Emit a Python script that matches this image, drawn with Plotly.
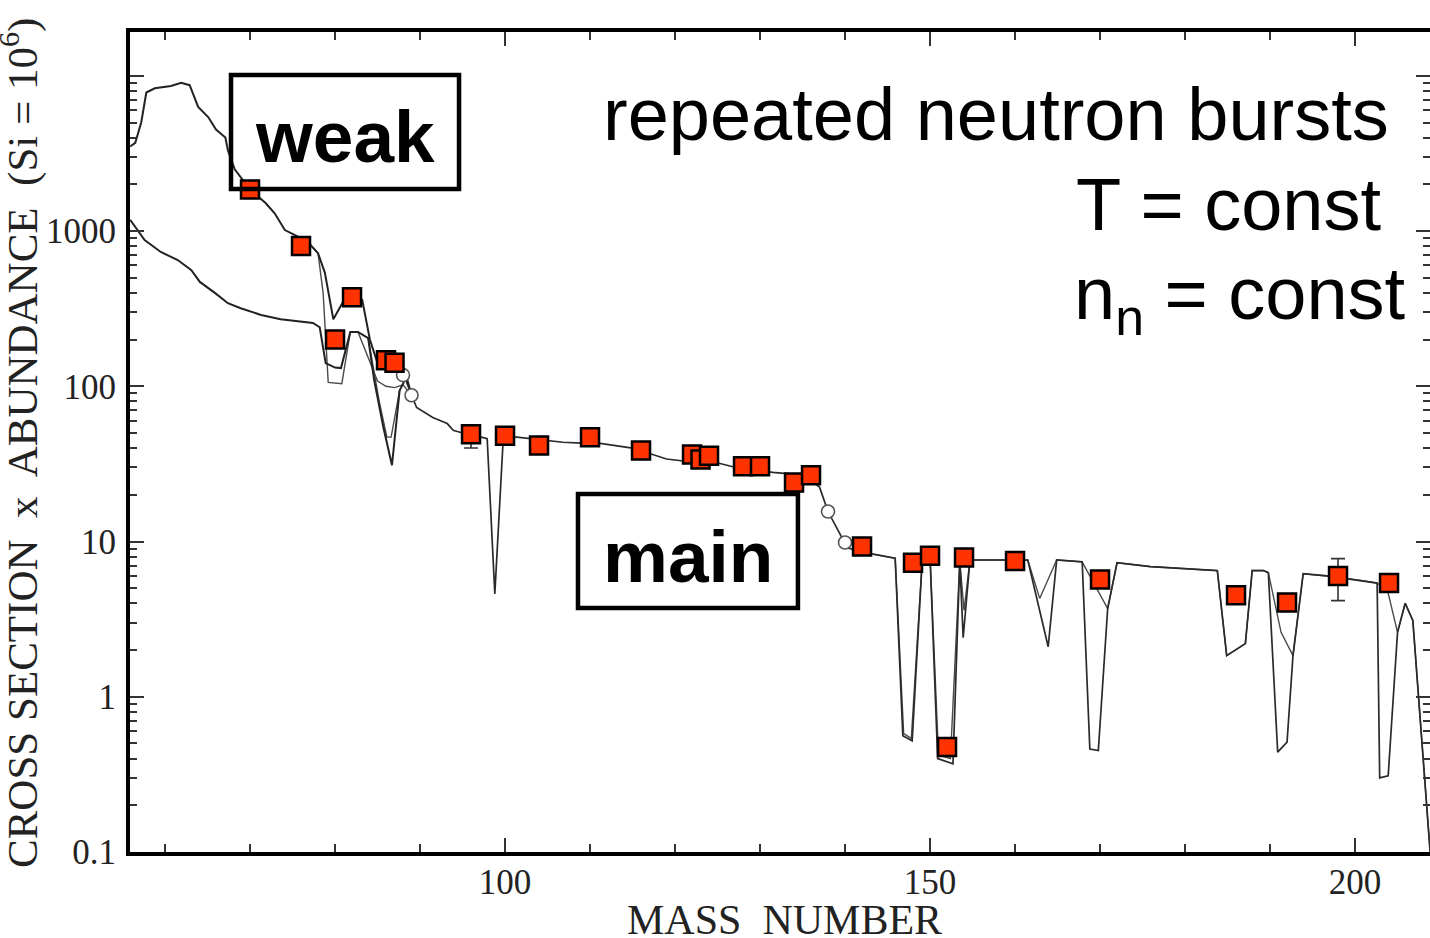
import plotly.graph_objects as go

# ---- measured s-process abundances (sigma * N, Si = 1e6) ----
obs_mass = [70, 76, 80, 82, 86, 87, 96, 100, 104, 110, 116, 122, 123, 124, 128, 130,
            134, 136, 142, 148, 150, 152, 154, 160, 170, 186, 192, 198, 204]
obs_sigma_n = [1850, 800, 200, 375, 147, 142, 49, 48, 41.6, 47, 38.6, 36.4, 33.8, 35.7,
               30.5, 30.5, 24, 26.7, 9.3, 7.3, 8.1, 0.475, 7.9, 7.5, 5.7, 4.5, 4.04, 6.0, 5.4]
obs_err_plus = [0, 0, 0, 0, 0, 0, 7, 0, 0, 0, 0, 0, 0, 0, 0, 0,
                0, 0, 0, 0, 0, 0, 0, 0, 0, 0, 0, 1.76, 0]
obs_err_minus = [0, 0, 0, 0, 0, 0, 9, 0, 0, 0, 0, 0, 0, 0, 0, 0,
                 0, 0, 0, 0, 0, 0, 0, 0, 0, 0, 0, 1.84, 0]

# branching-point isotopes (open symbols)
branch_mass = [88, 89, 138, 140]
branch_sigma_n = [118, 87.5, 15.6, 9.85]

# ---- weak component + main component (total) ----
weak_mass = [55.9, 56.5, 57.2, 57.8, 58.8, 60.7, 61.9, 62.9, 63.9, 65.1, 66.0, 67.1, 67.4,
             68.2, 70.0, 71.8, 72.9, 74.1, 75.3, 76.8, 78.0, 78.8, 79.8, 81.2, 82.0, 83.2,
             84.1, 85.0, 86.5, 88.2, 89.0]
weak_sigma_n = [3500, 3700, 5000, 7800, 8300, 8600, 9000, 8700, 6300, 5400, 4500, 4000, 3300,
                2500, 1850, 1520, 1300, 1015, 940, 850, 720, 540, 270, 370, 390, 360,
                200, 141, 133, 127, 87.5]

# ---- main component, light end ----
main_lo_mass = [55.9, 57.6, 59.5, 61.5, 63.1, 64.1, 65.9, 67.4, 68.9, 71.3, 73.6, 77.4, 78.2,
                78.9, 80.0, 80.7, 81.8, 82.7, 83.9, 84.6, 85.7, 86.7, 87.6, 88.3, 89.0]
main_lo_sigma_n = [1180, 875, 733, 650, 560, 470, 398, 343, 318, 288, 270, 256, 240,
                   141, 132, 131, 224, 224, 204, 110, 54, 31, 94, 112, 87.5]

# ---- alternative branching treatment near Kr/Rb ----
alt_lo_mass = [76.8, 78.0, 78.6, 79.2, 80.8, 81.8, 82.7, 84.0, 85.0, 86.0, 87.0, 88.0, 89.0]
alt_lo_sigma_n = [850, 720, 400, 106, 104, 224, 224, 150, 108, 100, 98, 102, 87.5]

alt_rb_mass = [83.9, 85.2, 86.1, 86.6, 87.6]
alt_rb_sigma_n = [204, 80, 47, 47, 94]

# ---- main component, heavy end (two branching cases) ----
main_a_mass = [89.0, 89.6, 91.5, 93.2, 93.9, 95.0, 96.0, 97.4, 97.9, 98.8, 99.8, 101.4, 106.8,
               109.0, 111.0, 115.0, 117.0, 119.0, 121.0, 123.0, 125.3, 126.8, 131.5, 133.2,
               135.0, 137.0, 138.0, 139.4, 140.2, 143.3, 145.6, 145.9, 146.8, 147.9, 149.1,
               150.0, 150.9, 152.7, 153.5, 153.9, 154.7, 160.0, 161.5, 163.9, 164.9, 167.9,
               168.8, 169.8, 170.9, 172.0, 175.9, 183.8, 184.9, 187.1, 187.9, 189.2, 189.8,
               190.9, 192.0, 192.7, 193.9, 196.7, 200.9, 202.6, 202.9, 203.9, 205.0, 205.9,
               206.8, 208.9]
main_a_sigma_n = [87.5, 73, 63, 57.5, 52, 50, 49, 47, 46, 4.6, 47, 47, 43.6,
                  43, 43, 40, 37, 34, 33, 32.5, 31.8, 30.3, 27.9, 27.4,
                  26.7, 22.4, 15.6, 11.2, 9.1, 8.3, 7.9, 7.8, 0.56, 0.52, 7.9,
                  8.0, 0.40, 0.37, 7.5, 2.4, 7.6, 7.6, 7.6, 2.1, 7.6, 7.4,
                  0.46, 0.45, 3.7, 7.3, 6.9, 6.5, 1.84, 2.2, 6.5, 6.5, 6.3,
                  0.44, 0.51, 1.84, 6.2, 6.0, 5.6, 5.4, 0.30, 0.31, 2.6, 4.0,
                  3.1, 0.09]

main_b_mass = [143.3, 145.6, 145.9, 146.9, 147.8, 149.1, 150.0, 151.0, 152.4, 153.5, 154.0,
               154.7, 160.0, 161.5, 162.9, 164.9, 167.9, 170.9, 172.0, 175.9, 183.8, 184.9,
               187.1, 187.9, 189.2, 189.8, 191.3, 192.7, 193.9, 196.7, 200.9, 202.6, 203.8,
               205.0, 205.9, 206.8, 208.9]
main_b_sigma_n = [8.3, 7.9, 7.8, 0.58, 0.54, 7.9, 8.0, 0.42, 0.40, 7.5, 3.6,
                  7.6, 7.6, 7.6, 4.3, 7.6, 7.4, 3.7, 7.3, 6.9, 6.5, 1.84,
                  2.2, 6.5, 6.5, 6.3, 2.6, 1.84, 6.2, 6.0, 5.6, 5.4, 4.9,
                  2.6, 4.0, 3.1, 0.09]

SERIF = "Liberation Serif, Times New Roman, serif"
SANS = "Liberation Sans, Arial, Helvetica, sans-serif"

fig = go.Figure()

def model_line(xs, ys, color, width):
    fig.add_trace(go.Scatter(x=xs, y=ys, mode="lines",
                             line=dict(color=color, width=width),
                             hoverinfo="skip", showlegend=False))

model_line(alt_lo_mass, alt_lo_sigma_n, "#4a4a4a", 1.4)
model_line(alt_rb_mass, alt_rb_sigma_n, "#4a4a4a", 1.4)
model_line(main_b_mass, main_b_sigma_n, "#4a4a4a", 1.4)
model_line(main_lo_mass, main_lo_sigma_n, "#222222", 2.0)
model_line(weak_mass, weak_sigma_n, "#222222", 2.0)
model_line(main_a_mass, main_a_sigma_n, "#2a2a2a", 1.7)

fig.add_trace(go.Scatter(
    x=branch_mass, y=branch_sigma_n, mode="markers",
    marker=dict(symbol="circle", size=13, color="white",
                line=dict(color="#555555", width=1.6)),
    showlegend=False))

fig.add_trace(go.Scatter(
    x=obs_mass, y=obs_sigma_n, mode="markers",
    marker=dict(symbol="square", size=18, color="#ff3300",
                line=dict(color="black", width=2.5)),
    error_y=dict(type="data", symmetric=False, array=obs_err_plus,
                 arrayminus=obs_err_minus, color="#333333", thickness=1.6, width=7),
    showlegend=False))

# dummy trace so the right-hand tick axis is drawn
fig.add_trace(go.Scatter(x=[None], y=[None], yaxis="y2", showlegend=False,
                         hoverinfo="skip"))

y_major = [0.1, 1, 10, 100, 1000, 10000]
y_major_text = ["0.1", "1", "10", "100", "1000", ""]
y_minor = [k * 10.0 ** n for n in range(-1, 5) for k in range(2, 10)]
y_range = [-1.0, 4.282]

fig.update_layout(
    width=1430, height=938,
    margin=dict(l=130, r=0, t=32, b=86),
    paper_bgcolor="white", plot_bgcolor="white",
    xaxis=dict(
        range=[55.88, 208.82], showgrid=False, zeroline=False,
        showline=True, linecolor="black", linewidth=4, mirror="ticks",
        ticks="inside", tickmode="array", tickvals=[50, 100, 150, 200],
        ticklen=14, tickwidth=2, tickcolor="#333333",
        minor=dict(tickmode="linear", tick0=0, dtick=10, ticks="inside",
                   ticklen=8, tickwidth=1.5, tickcolor="#333333"),
        tickfont=dict(family=SERIF, size=35, color="#222222"),
        ticklabelstandoff=-4,
    ),
    yaxis=dict(
        type="log", range=y_range, showgrid=False, zeroline=False,
        showline=True, linecolor="black", linewidth=4, mirror=False,
        ticks="inside", tickmode="array", tickvals=y_major, ticktext=y_major_text,
        ticklen=14, tickwidth=2, tickcolor="#333333",
        minor=dict(tickmode="array", tickvals=y_minor, ticks="inside",
                   ticklen=7, tickwidth=1.5, tickcolor="#333333"),
        tickfont=dict(family=SERIF, size=35, color="#222222"),
        ticklabelstandoff=3,
    ),
    yaxis2=dict(
        type="log", range=y_range, overlaying="y", side="right",
        showgrid=False, zeroline=False, showline=False,
        ticks="inside", tickmode="array", tickvals=y_major,
        ticklen=14, tickwidth=2, tickcolor="#333333",
        minor=dict(tickmode="array", tickvals=y_minor, ticks="inside",
                   ticklen=7, tickwidth=1.5, tickcolor="#333333"),
        showticklabels=False,
    ),
)


def px_y(py):
    return (852 - py) / 820.0


def px_x(px):
    return (px - 130) / 1300.0


# axis titles
fig.add_annotation(text="MASS  NUMBER", xref="paper", yref="paper",
                   x=px_x(784), y=px_y(920), xanchor="center", yanchor="middle",
                   showarrow=False, font=dict(family=SERIF, size=42, color="#222222"))
fig.add_annotation(text="CROSS SECTION  x  ABUNDANCE  (Si = 10<sup>6</sup>)",
                   xref="paper", yref="paper", textangle=-90,
                   x=px_x(19), y=px_y(443), xanchor="center", yanchor="middle",
                   showarrow=False, font=dict(family=SERIF, size=43, color="#222222"))

# labelled boxes
box_line = dict(color="black", width=4.5)
fig.add_shape(type="rect", xref="paper", yref="paper",
              x0=0.0777, x1=0.2531, y0=0.8085, y1=0.9476,
              line=box_line, fillcolor="rgba(0,0,0,0)", layer="above")
fig.add_shape(type="rect", xref="paper", yref="paper",
              x0=0.3446, x1=0.5138, y0=0.2976, y1=0.4366,
              line=box_line, fillcolor="rgba(0,0,0,0)", layer="above")

fig.add_annotation(text="<b>weak</b>", xref="paper", yref="paper",
                   x=px_x(345), y=px_y(94), xanchor="center", yanchor="top",
                   showarrow=False, font=dict(family=SANS, size=73, color="black"))
fig.add_annotation(text="<b>main</b>", xref="paper", yref="paper",
                   x=px_x(688), y=px_y(514), xanchor="center", yanchor="top",
                   showarrow=False, font=dict(family=SANS, size=73, color="black"))

fig.add_annotation(text="repeated neutron bursts", xref="paper", yref="paper",
                   x=px_x(1391), y=px_y(71), xanchor="right", yanchor="top",
                   showarrow=False, font=dict(family=SANS, size=74, color="black"))
fig.add_annotation(text="T = const", xref="paper", yref="paper",
                   x=px_x(1384), y=px_y(161), xanchor="right", yanchor="top",
                   showarrow=False, font=dict(family=SANS, size=74, color="black"))
fig.add_annotation(text="n<sub>n</sub> = const", xref="paper", yref="paper",
                   x=px_x(1408), y=px_y(250), xanchor="right", yanchor="top",
                   showarrow=False, font=dict(family=SANS, size=74, color="black"))

fig.write_html("out.html")
